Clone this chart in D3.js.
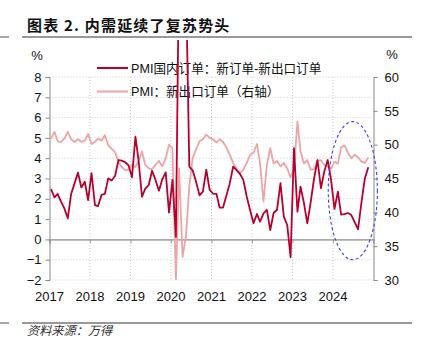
<!DOCTYPE html>
<html>
<head>
<meta charset="utf-8">
<script src="https://cdn.jsdelivr.net/npm/d3@7"></script>
<style>
  body { margin: 0; background: #fff; }
  text { font-family: "Liberation Sans", Arial, "Noto Sans CJK SC", sans-serif; fill: #111; }
</style>
</head>
<body>
<div id="chart"></div>
<script>
// monthly data, Jan 2017 .. Nov 2024
var years = [2017, 2018, 2019, 2020, 2021, 2022, 2023, 2024];

// PMI国内订单：新订单-新出口订单 (left axis)
var domestic = [
  2.48, 2.07, 2.24, 1.86, 1.53, 1.04, 2.24, 2.76, 3.29, 2.56, 2.84, 1.94,
  3.26, 1.69, 1.64, 2.19, 2.24, 3.01, 2.90, 3.12, 3.91, 3.88, 3.80, 3.65,
  3.06, 5.06, 3.91, 2.10, 2.50, 2.68, 3.38, 2.93, 2.40, 2.96, 3.30, 1.32,
  2.93, 0.13, 14.0, 15.0, 13.0, 3.58, 3.40, 2.84, 2.17, 2.35, 3.43, 2.45,
  2.25, 2.24, 1.57, 1.57, 2.15, 2.77, 3.58, 3.41, 3.22, 2.93, 2.10, 1.45,
  0.80, 1.25, 0.87, 1.28, 1.45, 0.46, 1.30, 1.46, 2.77, 1.12, 0.71, -0.88,
  4.49, 1.37, 2.60, 1.78, 0.79, 1.85, 3.00, 3.91, 2.52, 3.34, 3.91, 2.95,
  1.50, 2.35, 1.22, 1.25, 1.30, 1.20, 0.85, 0.50, 1.85, 3.00, 3.55
];

// PMI：新出口订单 (right axis)
var exportOrders = [
  50.9, 51.9, 50.5, 50.4, 50.9, 51.9, 50.8, 50.4, 50.8, 50.4, 50.6, 51.6,
  50.1, 50.4, 50.9, 50.6, 51.4, 49.9, 49.4, 48.9, 47.4, 46.7, 46.2, 46.3,
  47.0, 46.7, 47.6, 49.0, 47.0, 46.5, 46.4, 47.0, 47.6, 46.8, 48.0, 50.0,
  49.5, 30.0, 46.5, 33.4, 36.4, 43.8, 48.0, 49.3, 50.5, 50.8, 51.5, 51.0,
  50.8, 50.3, 50.8, 50.4, 49.6, 48.5, 47.3, 46.4, 45.8, 46.3, 47.3, 48.5,
  48.8, 50.1, 47.2, 41.6, 47.0, 49.5, 47.2, 47.6, 46.8, 47.3, 46.5, 45.2,
  46.3, 53.4, 49.0, 47.2, 47.7, 46.3, 46.4, 47.6, 47.7, 47.0, 46.8, 46.4,
  47.5, 47.2, 49.6, 49.9, 48.8, 48.0, 48.5, 48.1, 47.5, 47.3, 48.1
];

var leftTicks = [-2, -1, 0, 1, 2, 3, 4, 5, 6, 7, 8];
var rightTicks = [30, 35, 40, 45, 50, 55, 60];

// highlighted window (dashed ellipse): dates and right-axis values
var markDates = [new Date(2023, 10, 20), new Date(2025, 1, 5)];
var markValues = [33.0, 53.4];

var darkRed = "#b8002e",
    pink = "#eda4a4";

var width = 422, height = 352;
var plot = {left: 49.5, right: 373.5, top: 77, bottom: 280};

var months = domestic.map(function(d, i) {
  return new Date(2017 + Math.floor(i / 12), i % 12, 15);
});

var svg = d3.select("#chart")
  .append("svg")
    .attr("width", width)
    .attr("height", height)
    .style("background", "#fff");

// scales
var x = d3.scaleTime()
  .domain([new Date(2017, 0, 1), new Date(2025, 0, 1)])
  .range([plot.left, plot.right]);
var yL = d3.scaleLinear().domain([-2, 8]).range([plot.bottom, plot.top]);
var yR = d3.scaleLinear().domain([30, 60]).range([plot.bottom, plot.top]);

// title + rules
svg.append("text")
  .attr("x", 27).attr("y", 31)
  .style("font-family", "'Noto Sans CJK SC', sans-serif")
  .style("font-weight", "bold")
  .style("font-size", "15px")
  .style("letter-spacing", "1.2px")
  .text("图表 2. 内需延续了复苏势头");

[37, 323].forEach(function(yy) {
  svg.append("line").attr("x1", 0).attr("x2", 9).attr("y1", yy).attr("y2", yy)
    .attr("stroke", "#777").attr("stroke-width", 1.3);
  svg.append("line").attr("x1", 22).attr("x2", 412).attr("y1", yy).attr("y2", yy)
    .attr("stroke", "#777").attr("stroke-width", 1.3);
});

svg.append("text")
  .attr("x", 27).attr("y", 335)
  .style("font-family", "'Noto Sans CJK SC', sans-serif")
  .style("font-style", "italic")
  .style("font-size", "12.2px")
  .style("fill", "#333")
  .text("资料来源：万得");

// gridlines
svg.append("g").selectAll("line")
  .data(leftTicks.filter(function(d) { return d !== 0; }))
  .enter().append("line")
    .attr("x1", plot.left).attr("x2", plot.right)
    .attr("y1", function(d) { return yL(d); })
    .attr("y2", function(d) { return yL(d); })
    .attr("stroke", "#c8c8c8")
    .attr("stroke-dasharray", "1,2");

svg.append("g").selectAll("line")
  .data(years.slice(1))
  .enter().append("line")
    .attr("x1", function(d) { return x(new Date(d, 0, 1)); })
    .attr("x2", function(d) { return x(new Date(d, 0, 1)); })
    .attr("y1", plot.top).attr("y2", plot.bottom)
    .attr("stroke", "#c8c8c8")
    .attr("stroke-dasharray", "1,2");

// x axis on the zero line
var xAxis = svg.append("g")
  .attr("transform", "translate(0," + yL(0) + ")")
  .call(d3.axisBottom(x)
    .tickValues(years.map(function(d) { return new Date(d, 0, 1); }))
    .tickSize(4)
    .tickFormat(""));
xAxis.select(".domain").attr("stroke", "#aaa").attr("stroke-width", 1.6);
xAxis.selectAll(".tick line").attr("stroke", "#999");

svg.append("g").selectAll("text")
  .data(years)
  .enter().append("text")
    .attr("x", function(d) { return x(new Date(d, 0, 1)); })
    .attr("y", 300.5)
    .attr("text-anchor", "middle")
    .style("font-size", "13px")
    .text(function(d) { return d; });

// left axis
var leftAxis = svg.append("g")
  .attr("transform", "translate(" + plot.left + ",0)")
  .call(d3.axisLeft(yL).tickValues(leftTicks).tickSize(4).tickPadding(4));
leftAxis.select(".domain").attr("stroke", "#888");
leftAxis.selectAll(".tick line").attr("stroke", "#888");
leftAxis.selectAll("text")
  .style("font-size", "13px")
  .style("font-family", "'Liberation Sans', Arial, sans-serif")
  .attr("fill", "#111");

// right axis
var rightAxis = svg.append("g")
  .attr("transform", "translate(" + plot.right + ",0)")
  .call(d3.axisRight(yR).tickValues(rightTicks).tickSize(4).tickPadding(7));
rightAxis.select(".domain").attr("stroke", "#888");
rightAxis.selectAll(".tick line").attr("stroke", "#888");
rightAxis.selectAll("text")
  .style("font-size", "13px")
  .style("font-family", "'Liberation Sans', Arial, sans-serif")
  .attr("fill", "#111");

// unit labels
svg.append("text").attr("x", 37).attr("y", 60)
  .attr("text-anchor", "middle").style("font-size", "13px").text("%");
svg.append("text").attr("x", 392).attr("y", 59)
  .attr("text-anchor", "middle").style("font-size", "13px").text("%");

// legend
var legend = [
  {label: "PMI国内订单：新订单-新出口订单", color: darkRed, y: 68},
  {label: "PMI：新出口订单（右轴）", color: pink, y: 91.5}
];
legend.forEach(function(l) {
  svg.append("line")
    .attr("x1", 97).attr("x2", 128)
    .attr("y1", l.y).attr("y2", l.y)
    .attr("stroke", l.color)
    .attr("stroke-width", 2);
  svg.append("text")
    .attr("x", 131).attr("y", l.y)
    .attr("dy", "0.36em")
    .style("font-size", "12.6px")
    .text(l.label);
});

// clip so the 2020 spike runs up to the title rule only
svg.append("clipPath").attr("id", "plotclip")
  .append("rect")
    .attr("x", plot.left).attr("y", 40)
    .attr("width", plot.right - plot.left)
    .attr("height", plot.bottom - 40);

var lineR = d3.line()
  .x(function(d, i) { return x(months[i]); })
  .y(function(d) { return yR(d); });
var lineL = d3.line()
  .x(function(d, i) { return x(months[i]); })
  .y(function(d) { return yL(d); });

svg.append("path")
  .datum(exportOrders)
  .attr("clip-path", "url(#plotclip)")
  .attr("fill", "none")
  .attr("stroke", pink)
  .attr("stroke-width", 1.8)
  .attr("stroke-linejoin", "round")
  .attr("d", lineR);

svg.append("path")
  .datum(domestic)
  .attr("clip-path", "url(#plotclip)")
  .attr("fill", "none")
  .attr("stroke", darkRed)
  .attr("stroke-width", 1.8)
  .attr("stroke-linejoin", "round")
  .attr("d", lineL);

// dashed ellipse around the latest months
var ex0 = x(markDates[0]), ex1 = x(markDates[1]),
    ey0 = yR(markValues[1]), ey1 = yR(markValues[0]);
svg.append("ellipse")
  .attr("cx", (ex0 + ex1) / 2)
  .attr("cy", (ey0 + ey1) / 2)
  .attr("rx", (ex1 - ex0) / 2)
  .attr("ry", (ey1 - ey0) / 2)
  .attr("fill", "none")
  .attr("stroke", "#3a3aff")
  .attr("stroke-width", 1.1)
  .attr("stroke-dasharray", "3,2.5");
</script>
</body>
</html>
